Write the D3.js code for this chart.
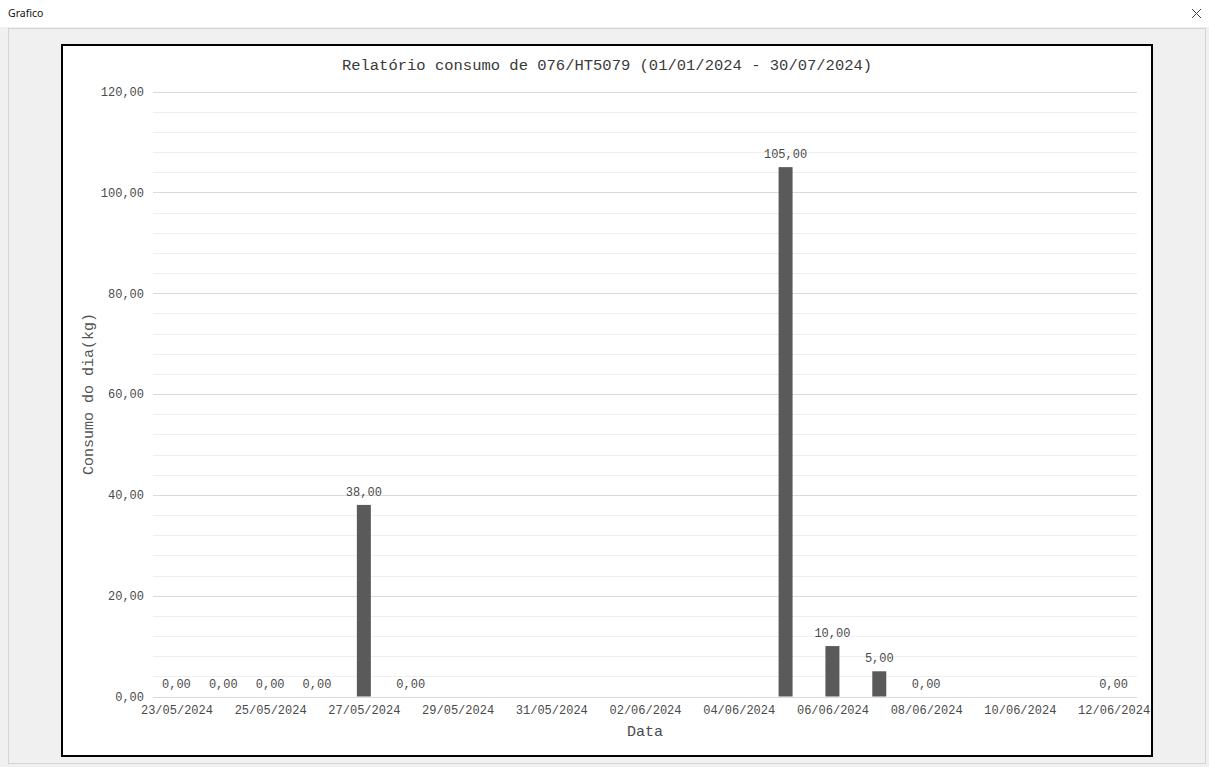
<!DOCTYPE html>
<html>
<head>
<meta charset="utf-8">
<script src="https://cdn.jsdelivr.net/npm/d3@7"></script>
<style>
  html, body { margin: 0; padding: 0; background: #ffffff; }
  svg { display: block; }
</style>
</head>
<body>
<svg id="win" width="1209" height="767"></svg>
<script>
// Daily consumption records
const dates = ["23/05/2024", "24/05/2024", "25/05/2024", "26/05/2024", "27/05/2024", "28/05/2024",
               "05/06/2024", "06/06/2024", "07/06/2024", "08/06/2024", "12/06/2024"];
const values = [0, 0, 0, 0, 38, 0, 105, 10, 5, 0, 0];

// Axis ticks
const xTickLabels = ["23/05/2024", "25/05/2024", "27/05/2024", "29/05/2024", "31/05/2024", "02/06/2024",
                     "04/06/2024", "06/06/2024", "08/06/2024", "10/06/2024", "12/06/2024"];
const yTicks = [0, 20, 40, 60, 80, 100, 120];
const yMinorStep = 4;

const titleText = "Relatório consumo de 076/HT5079 (01/01/2024 - 30/07/2024)";
const xTitle = "Data";
const yTitle = "Consumo do dia(kg)";

const parse = d3.timeParse("%d/%m/%Y");
const ptBR = d3.formatLocale({ decimal: ",", thousands: ".", grouping: [3], currency: ["R$", ""] });
const fmt = ptBR.format(".2f");
const mono = "'Liberation Mono', 'Courier New', monospace";
const textColor = "#4a4a4a";

const svg = d3.select("#win");

// Window chrome
svg.append("rect").attr("x", 0).attr("y", 0).attr("width", 1209).attr("height", 767).attr("fill", "#ffffff");
svg.append("text").attr("x", 8).attr("y", 17)
  .attr("font-family", "'Noto Sans', 'DejaVu Sans', sans-serif").attr("font-size", 10.5)
  .attr("fill", "#111").text("Grafico");
svg.append("path").attr("d", "M1192,9 L1201,18 M1201,9 L1192,18")
  .attr("stroke", "#444").attr("stroke-width", 1);
svg.append("rect").attr("x", 0).attr("y", 27).attr("width", 1209).attr("height", 740).attr("fill", "#f0f0f0");
svg.append("rect").attr("x", 8.5).attr("y", 28.5).attr("width", 1197).attr("height", 735)
  .attr("fill", "none").attr("stroke", "#d4d4d4");

// Chart surface
svg.append("rect").attr("x", 62).attr("y", 45).attr("width", 1090).attr("height", 711)
  .attr("fill", "#ffffff").attr("stroke", "#000").attr("stroke-width", 2);

const plot = { left: 153, right: 1137, top: 91.5, bottom: 696.5 };

const first = parse(dates[0]);
const last = parse(dates[dates.length - 1]);
const x = d3.scaleTime()
  .domain([d3.timeHour.offset(first, -12), d3.timeHour.offset(last, 12)])
  .range([plot.left, plot.right]);
const y = d3.scaleLinear().domain([0, 120]).range([plot.bottom, plot.top]);

// Minor and major gridlines
const minor = d3.range(0, 120 + 0.001, yMinorStep).filter(v => !yTicks.includes(v));
svg.append("g").selectAll("line").data(minor).join("line")
  .attr("x1", plot.left).attr("x2", plot.right)
  .attr("y1", d => Math.round(y(d)) + 0.5).attr("y2", d => Math.round(y(d)) + 0.5)
  .attr("stroke", "#efefef").attr("stroke-width", 1);
svg.append("g").selectAll("line").data(yTicks).join("line")
  .attr("x1", plot.left).attr("x2", plot.right)
  .attr("y1", d => Math.round(y(d)) + 0.5).attr("y2", d => Math.round(y(d)) + 0.5)
  .attr("stroke", "#dadada").attr("stroke-width", 1);

// Y axis
const yAxis = d3.axisLeft(y).tickValues(yTicks).tickFormat(fmt).tickSize(0).tickPadding(0);
const gy = svg.append("g").attr("transform", `translate(${plot.left - 9},0)`).call(yAxis);
gy.select(".domain").remove();
gy.selectAll("text").attr("font-family", mono).attr("font-size", 12).attr("fill", textColor);

// X axis
const xAxis = d3.axisBottom(x).tickValues(xTickLabels.map(parse))
  .tickFormat(d3.timeFormat("%d/%m/%Y")).tickSize(0).tickPadding(0);
const gx = svg.append("g").attr("transform", `translate(0,${plot.bottom + 9})`).call(xAxis);
gx.select(".domain").remove();
gx.selectAll("text").attr("font-family", mono).attr("font-size", 12).attr("fill", textColor);

// Bars
const data = dates.map((d, i) => ({ date: parse(d), value: values[i] }));
const barW = 14;
svg.append("g").selectAll("rect").data(data.filter(d => d.value > 0)).join("rect")
  .attr("x", d => x(d.date) - barW / 2)
  .attr("y", d => y(d.value))
  .attr("width", barW)
  .attr("height", d => y(0) - y(d.value))
  .attr("fill", "#5a5a5a");

// Value labels
svg.append("g").selectAll("text").data(data).join("text")
  .attr("x", d => x(d.date))
  .attr("y", d => y(d.value) - 9)
  .attr("text-anchor", "middle")
  .attr("font-family", mono).attr("font-size", 12).attr("fill", textColor)
  .text(d => fmt(d.value));

// Titles
svg.append("text").attr("x", 607).attr("y", 70).attr("text-anchor", "middle")
  .attr("font-family", mono).attr("font-size", 15.5).attr("fill", "#3a3a3a").text(titleText);
svg.append("text").attr("x", (plot.left + plot.right) / 2).attr("y", 736).attr("text-anchor", "middle")
  .attr("font-family", mono).attr("font-size", 15).attr("fill", textColor).text(xTitle);
svg.append("text").attr("transform", `translate(93,${(plot.top + plot.bottom) / 2}) rotate(-90)`)
  .attr("text-anchor", "middle")
  .attr("font-family", mono).attr("font-size", 15).attr("fill", "#555").text(yTitle);
</script>
</body>
</html>
